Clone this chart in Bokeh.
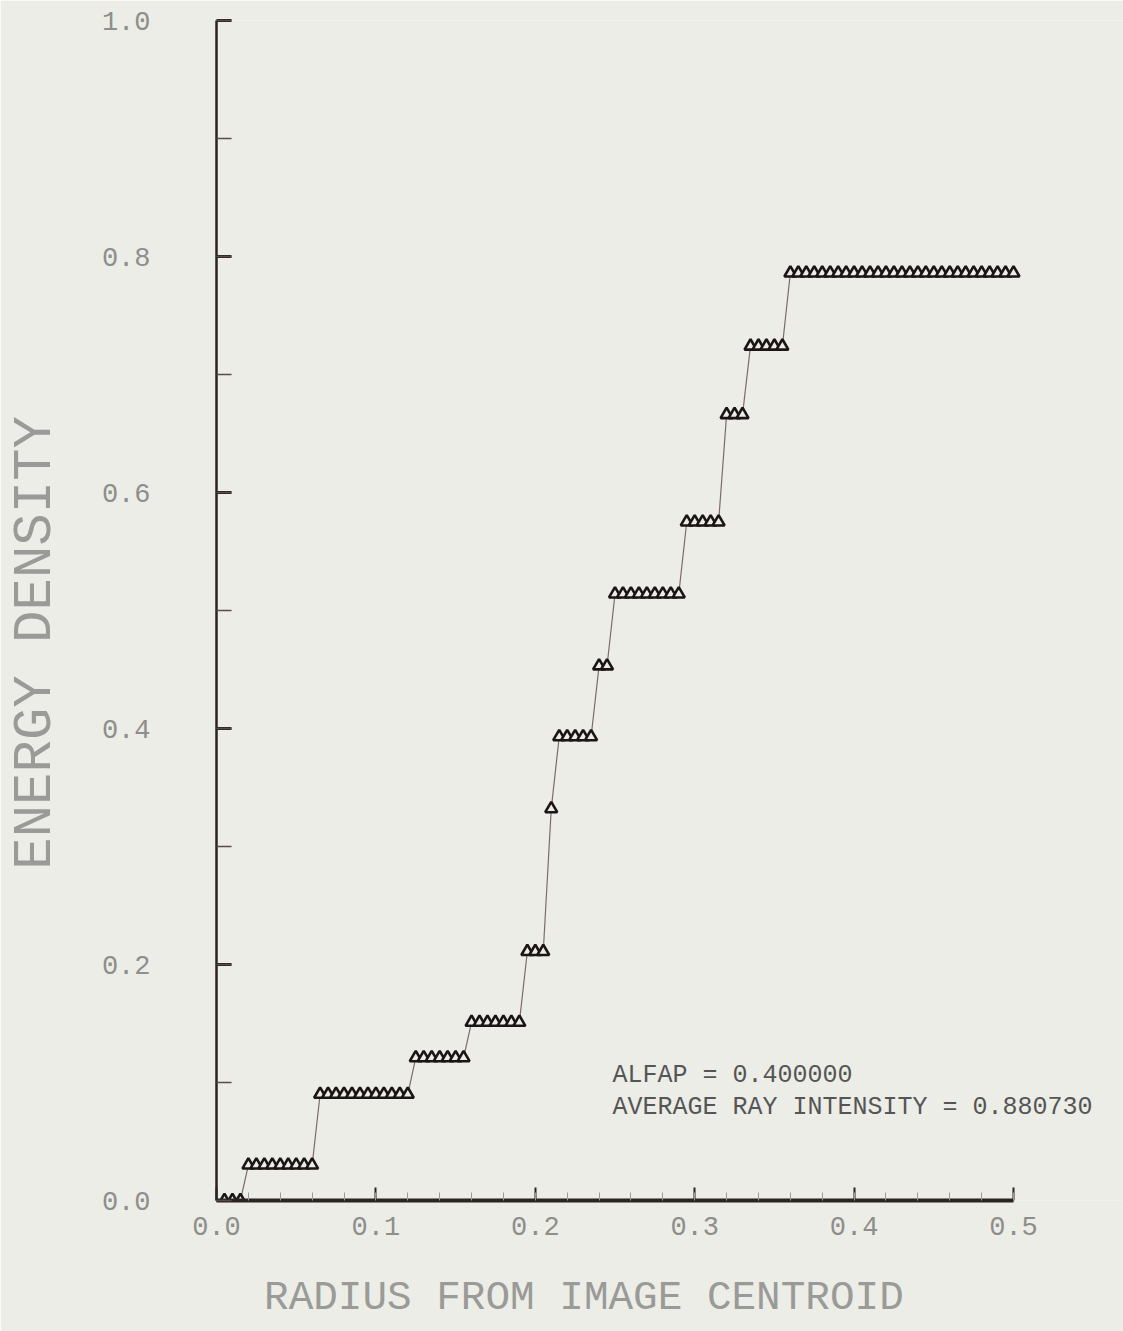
from bokeh.plotting import figure
from bokeh.models import Range1d, SingleIntervalTicker, PrintfTickFormatter, Label
from bokeh.embed import file_html
from bokeh.resources import INLINE

# ---- data ----
radius = [0.005, 0.010, 0.015, 0.020, 0.025, 0.030, 0.035, 0.040, 0.045, 0.050,
          0.055, 0.060, 0.065, 0.070, 0.075, 0.080, 0.085, 0.090, 0.095, 0.100,
          0.105, 0.110, 0.115, 0.120, 0.125, 0.130, 0.135, 0.140, 0.145, 0.150,
          0.155, 0.160, 0.165, 0.170, 0.175, 0.180, 0.185, 0.190, 0.195, 0.200,
          0.205, 0.210, 0.215, 0.220, 0.225, 0.230, 0.235, 0.240, 0.245, 0.250,
          0.255, 0.260, 0.265, 0.270, 0.275, 0.280, 0.285, 0.290, 0.295, 0.300,
          0.305, 0.310, 0.315, 0.320, 0.325, 0.330, 0.335, 0.340, 0.345, 0.350,
          0.355, 0.360, 0.365, 0.370, 0.375, 0.380, 0.385, 0.390, 0.395, 0.400,
          0.405, 0.410, 0.415, 0.420, 0.425, 0.430, 0.435, 0.440, 0.445, 0.450,
          0.455, 0.460, 0.465, 0.470, 0.475, 0.480, 0.485, 0.490, 0.495, 0.500]

energy = [0.000, 0.000, 0.000, 0.030, 0.030, 0.030, 0.030, 0.030, 0.030, 0.030,
          0.030, 0.030, 0.090, 0.090, 0.090, 0.090, 0.090, 0.090, 0.090, 0.090,
          0.090, 0.090, 0.090, 0.090, 0.121, 0.121, 0.121, 0.121, 0.121, 0.121,
          0.121, 0.151, 0.151, 0.151, 0.151, 0.151, 0.151, 0.151, 0.211, 0.211,
          0.211, 0.332, 0.393, 0.393, 0.393, 0.393, 0.393, 0.453, 0.453, 0.514,
          0.514, 0.514, 0.514, 0.514, 0.514, 0.514, 0.514, 0.514, 0.575, 0.575,
          0.575, 0.575, 0.575, 0.666, 0.666, 0.666, 0.724, 0.724, 0.724, 0.724,
          0.724, 0.786, 0.786, 0.786, 0.786, 0.786, 0.786, 0.786, 0.786, 0.786,
          0.786, 0.786, 0.786, 0.786, 0.786, 0.786, 0.786, 0.786, 0.786, 0.786,
          0.786, 0.786, 0.786, 0.786, 0.786, 0.786, 0.786, 0.786, 0.786, 0.786]

x_title = "RADIUS FROM IMAGE CENTROID"
y_title = "ENERGY DENSITY"
notes = ["ALFAP = 0.400000", "AVERAGE RAY INTENSITY = 0.880730"]
note_x = 0.2484
note_y = [0.106, 0.079]

BG = "#ecede6"
INK = "#2b2222"
FONT = "Liberation Mono"
NBSP = "\u00a0"

p = figure(width=1123, height=1331,
           x_range=Range1d(0, 0.569), y_range=Range1d(0, 1.0),
           output_backend="svg", toolbar_location=None,
           min_border_left=216, min_border_right=0,
           min_border_top=20, min_border_bottom=131,
           background_fill_color=BG, border_fill_color=BG)
p.outline_line_color = None
p.grid.visible = False

p.line(radius, energy, line_color="#7d6b6b", line_width=1.2)
p.scatter(radius, energy, marker="triangle", size=12,
          line_color="#1c1515", line_width=2.6, fill_color=BG)

# y axis
ya = p.yaxis[0]
ya.ticker = SingleIntervalTicker(interval=0.2, num_minor_ticks=2)
ya.formatter = PrintfTickFormatter(format="%.1f")
ya.bounds = (0, 1.0)
ya.axis_line_color = INK
ya.axis_line_width = 2.5
ya.major_tick_in = 15
ya.major_tick_out = 0
ya.major_tick_line_width = 3
ya.major_tick_line_color = INK
ya.minor_tick_in = 15
ya.minor_tick_out = 0
ya.minor_tick_line_width = 1.3
ya.minor_tick_line_color = "#5a4a4a"
ya.major_label_standoff = 66
ya.major_label_text_font = FONT
ya.major_label_text_font_size = "27px"
ya.major_label_text_color = "#8e8e8c"
ya.axis_label = y_title + NBSP * 2
ya.axis_label_text_font = FONT
ya.axis_label_text_font_size = "54px"
ya.axis_label_text_color = "#9a9a98"
ya.axis_label_text_font_style = "normal"
ya.axis_label_standoff = 33

# x axis
xa = p.xaxis[0]
xa.ticker = SingleIntervalTicker(interval=0.1, num_minor_ticks=5)
xa.formatter = PrintfTickFormatter(format="%.1f")
xa.bounds = (0, 0.5)
xa.axis_line_color = INK
xa.axis_line_width = 4
xa.major_tick_in = 13
xa.major_tick_out = 0
xa.major_tick_line_width = 2
xa.major_tick_line_color = INK
xa.minor_tick_in = 8
xa.minor_tick_out = 0
xa.minor_tick_line_width = 1
xa.minor_tick_line_color = "#a09898"
xa.major_label_standoff = 16
xa.major_label_text_font = FONT
xa.major_label_text_font_size = "27px"
xa.major_label_text_color = "#8e8e8c"
xa.axis_label = x_title + NBSP * 7
xa.axis_label_text_font = FONT
xa.axis_label_text_font_size = "41px"
xa.axis_label_text_color = "#9a9a98"
xa.axis_label_text_font_style = "normal"
xa.axis_label_standoff = 37

for t, yy in zip(notes, note_y):
    p.add_layout(Label(x=note_x, y=yy, text=t, text_font=FONT,
                       text_font_size="25px", text_color="#555555",
                       text_baseline="middle", text_align="left"))

html = file_html(p, INLINE)
html = html.replace("<body>", '<body style="background:%s">' % BG, 1)
open("out.html", "w").write(html)
